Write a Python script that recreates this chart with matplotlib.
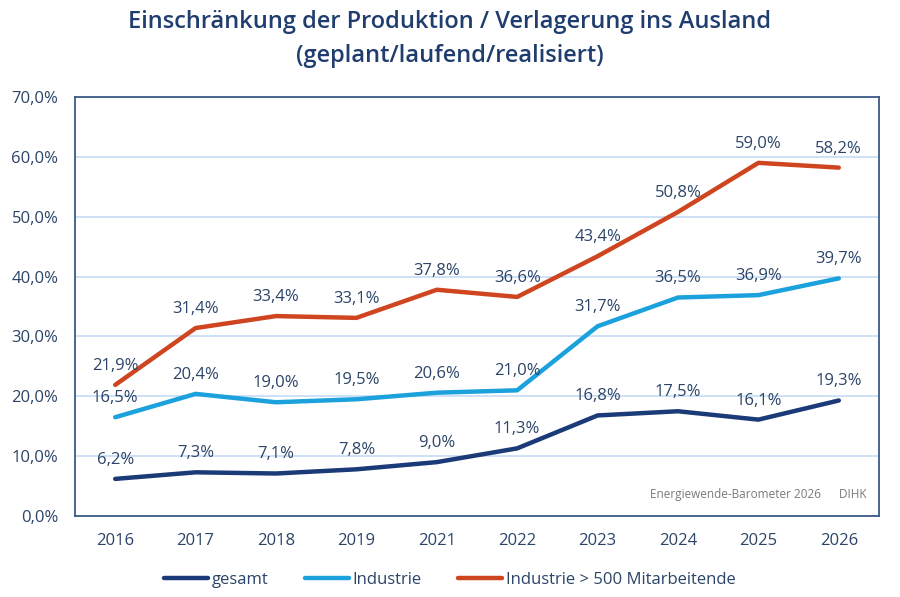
import matplotlib.pyplot as plt
import numpy as np

plt.rcParams['font.family'] = ['Open Sans', 'DejaVu Sans']

years = ['2016', '2017', '2018', '2019', '2021', '2022', '2023', '2024', '2025', '2026']
gesamt = [6.2, 7.3, 7.1, 7.8, 9.0, 11.3, 16.8, 17.5, 16.1, 19.3]
industrie = [16.5, 20.4, 19.0, 19.5, 20.6, 21.0, 31.7, 36.5, 36.9, 39.7]
industrie_500 = [21.9, 31.4, 33.4, 33.1, 37.8, 36.6, 43.4, 50.8, 59.0, 58.2]

series = [
    ('gesamt', gesamt, '#1b3a78'),
    ('Industrie', industrie, '#1ba1dc'),
    ('Industrie > 500 Mitarbeitende', industrie_500, '#cf4520'),
]

text_col = '#2b4467'

fig = plt.figure(figsize=(9, 5.97), dpi=100)
ax = fig.add_axes([75 / 900, 1 - 516 / 597, 804 / 900, 419 / 597])

x = np.arange(len(years))
for name, vals, col in series:
    ax.plot(x, vals, color=col, lw=3.2, label=name, solid_capstyle='round')
    for xi, v in zip(x, vals):
        ax.annotate(f'{v:.1f}%'.replace('.', ','), (xi, v), xytext=(0, 8),
                    textcoords='offset points', ha='center', va='bottom',
                    fontsize=12, color=text_col)

ax.set_xlim(-0.5, len(years) - 0.5)
ax.set_ylim(0, 70)
ax.set_yticks(np.arange(0, 71, 10))
ax.set_yticklabels([f'{v},0%' for v in range(0, 71, 10)])
ax.set_xticks(x)
ax.set_xticklabels(years)
ax.tick_params(length=0, labelsize=12, colors=text_col)
ax.tick_params(axis='y', pad=12)
ax.tick_params(axis='x', pad=12)
ax.grid(axis='y', color='#c5dbf5', lw=1.2)
ax.set_axisbelow(True)
for sp in ax.spines.values():
    sp.set_color('#3d5a85')
    sp.set_linewidth(1.3)

ax.text(0.985, 0.035, 'Energiewende-Barometer 2026      DIHK', transform=ax.transAxes,
        ha='right', va='bottom', fontsize=8.5, color='#7a7a7a')

fig.text(0.5, 1 - 22 / 597, 'Einschränkung der Produktion / Verlagerung ins Ausland',
         ha='center', va='center', fontsize=17, fontweight='semibold', color='#1f3d6e')
fig.text(0.5, 1 - 56 / 597, '(geplant/laufend/realisiert)',
         ha='center', va='center', fontsize=17, fontweight='semibold', color='#1f3d6e')

fig.legend(loc='center', bbox_to_anchor=(0.5, 1 - 580 / 597), ncol=3, frameon=False,
           fontsize=12, labelcolor=text_col, handlelength=2.6, handletextpad=0.25,
           columnspacing=2.2)

fig.savefig('out.png', dpi=100)
